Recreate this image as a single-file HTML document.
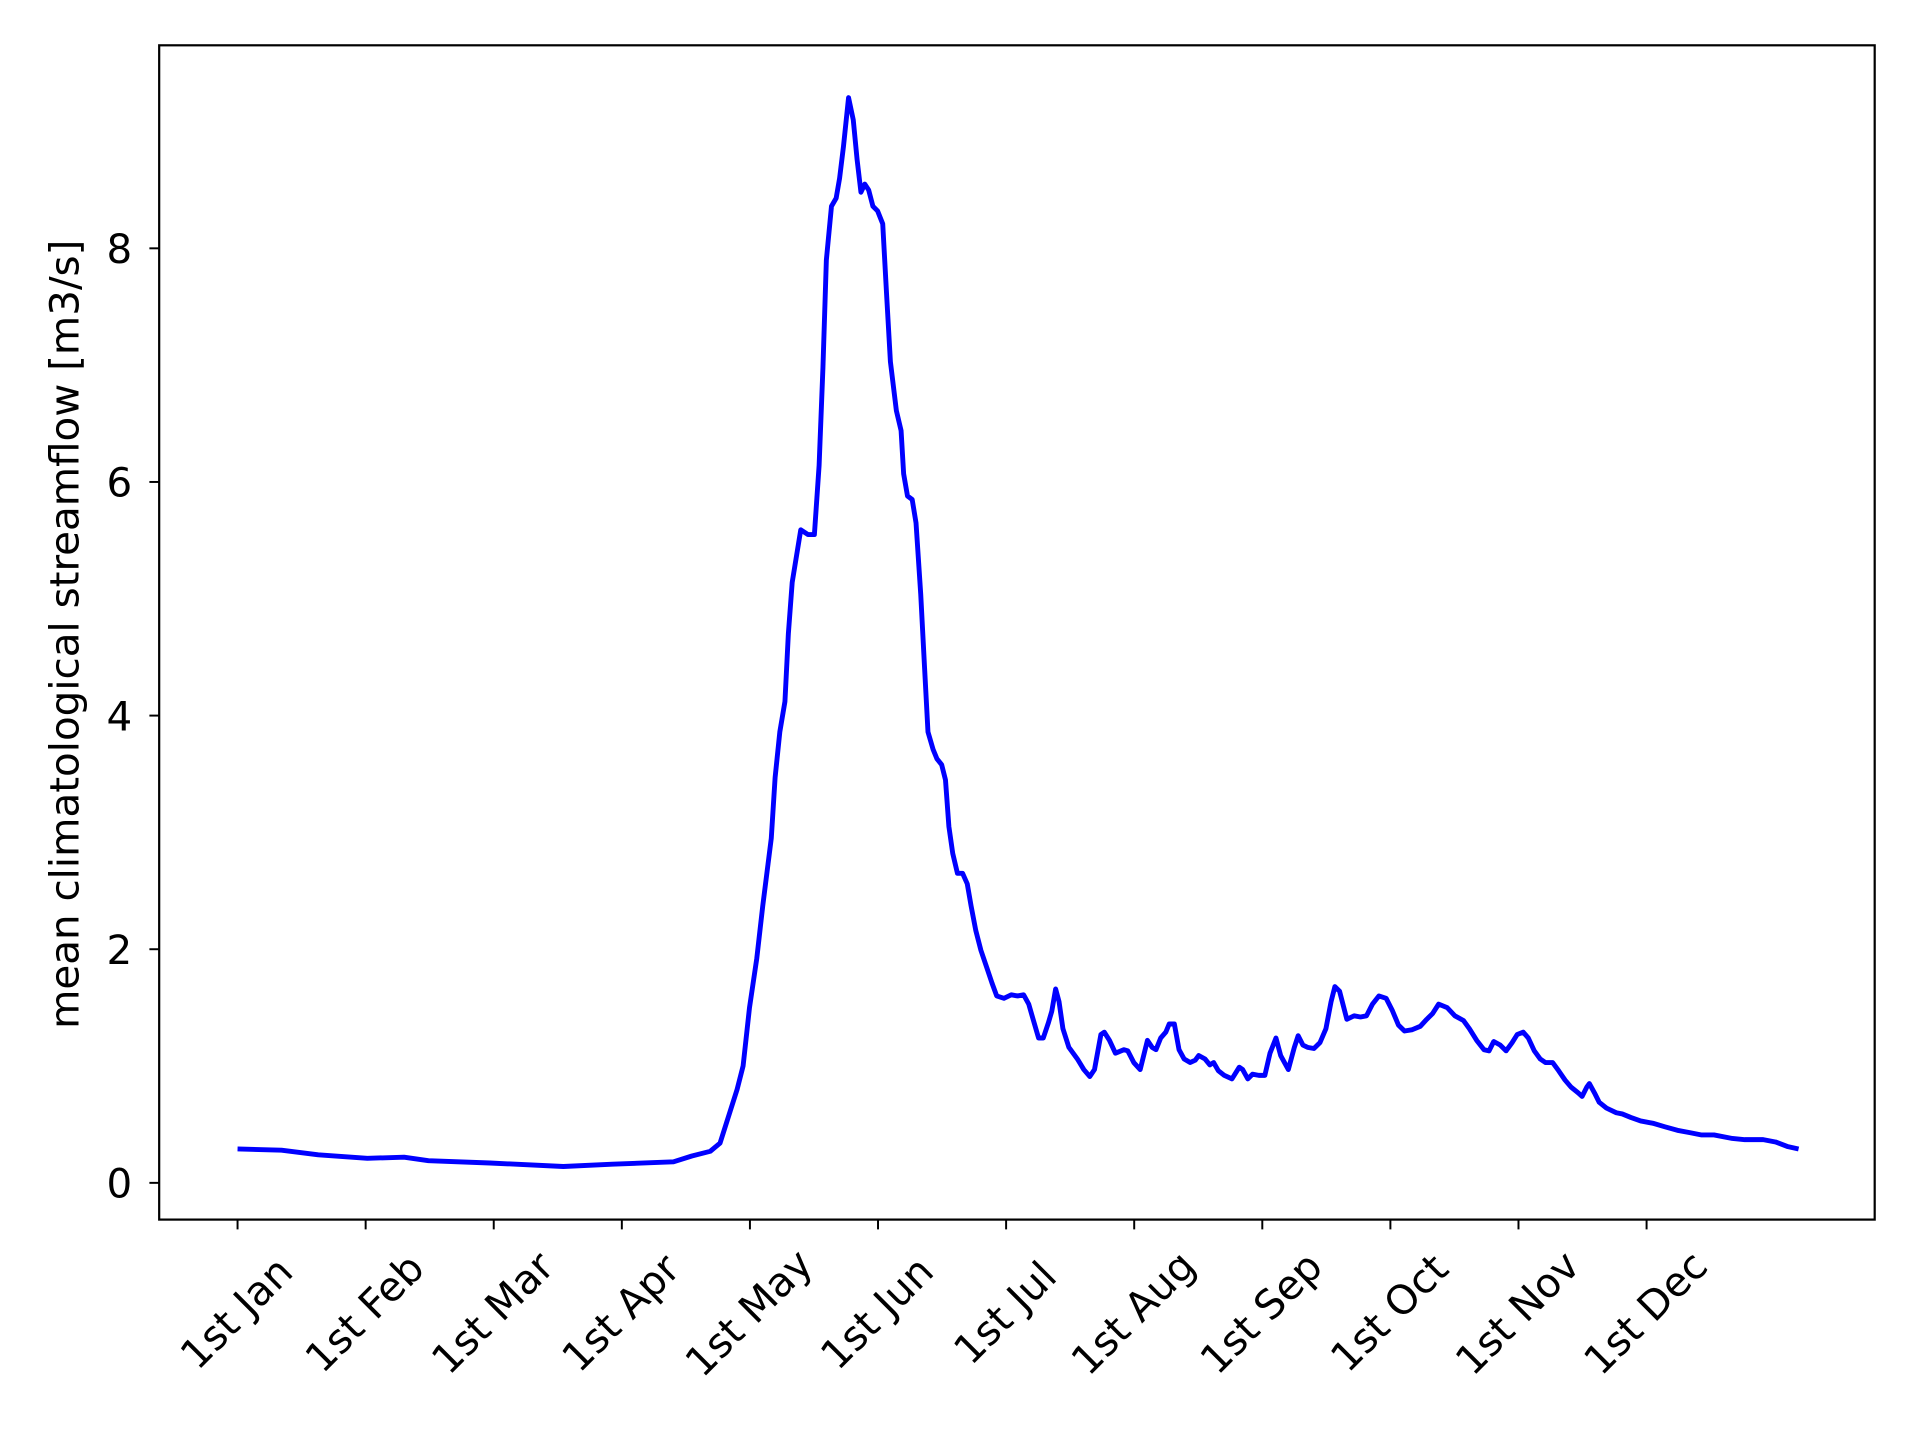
<!DOCTYPE html>
<html><head><meta charset="utf-8"><style>html,body{margin:0;padding:0;background:#fff}svg{display:block}text{font-family:"DejaVu Sans","Liberation Sans",sans-serif;fill:#000}</style></head>
<body>
<svg id="chart" width="1920" height="1440" viewBox="0 0 1568 1176" xmlns="http://www.w3.org/2000/svg">
<rect x="0" y="0" width="1568" height="1176" fill="#fff"/>
<g id="xticks"></g>
<g id="yticks"></g>
<path id="line" fill="none" stroke="#0000ff" stroke-width="4" stroke-linejoin="round"/>
<rect x="130" y="37" width="1401" height="959" fill="none" stroke="#000" stroke-width="1.8"/>
<text transform="translate(64,518) rotate(-90)" text-anchor="middle" font-size="33">mean climatological streamflow [m3/s]</text>
</svg>
<script>
const days=[0,10.3,18.9,30.4,39,44.7,59.1,76.3,87.8,102.1,106.4,110.7,113,115,117,118.4,119.9,121.6,123,125,125.9,127,128.2,129,129.9,131.9,133.6,135.1,136.2,137.1,137.9,139.1,140.2,141,141.9,143.1,144.2,145.1,146,146.9,147.8,148.8,149.9,151.1,152,152.9,154.3,155.4,156,156.9,158,158.9,160,160.9,161.7,162.9,163.8,164.9,165.8,166.6,167.5,168.6,169.8,170.9,171.8,172.9,174.1,175.5,176.7,177.8,179.5,181.2,182.7,184.1,185.3,186.4,187.6,188.7,189.9,190.7,191.6,192.4,193.3,194.7,196.7,198.2,199.6,200.7,202.2,203,204.2,205.6,207.6,208.5,209.9,211.4,213.1,214.2,215.1,216.2,217.4,218.2,219.4,220.5,221.7,223.1,224.3,225.1,226.6,227.7,228.6,229.7,231.1,232.9,234.6,235.4,236.6,237.7,239.2,240.6,241.8,243.2,244.3,246.1,247.5,248.4,249.5,250.6,252.1,253.5,254.9,256.1,257,258.1,259.8,261.5,263,264.4,265.8,267.3,269,270.4,271.9,273.3,275,277,278.5,279.9,281.3,283.3,285.1,287.1,288.5,290.2,291.9,293.1,294.2,295.7,297.1,298.5,299.7,301.1,302.3,303.7,305.1,306.3,308,309.4,310.9,312.3,314,314.9,316,316.6,317.8,318.9,320.6,322.9,324.3,326.3,328.6,331.5,334.3,337.2,340.1,342.9,345.8,350.1,353,357.3,360.2,363.1,365.6];
const flows=[0.29,0.28,0.24,0.21,0.22,0.19,0.17,0.14,0.16,0.18,0.23,0.27,0.34,0.57,0.80,1.0,1.5,1.92,2.37,2.95,3.47,3.86,4.12,4.7,5.14,5.59,5.55,5.55,6.14,6.98,7.9,8.36,8.43,8.6,8.87,9.29,9.1,8.76,8.48,8.55,8.5,8.36,8.32,8.21,7.61,7.03,6.61,6.44,6.07,5.88,5.85,5.65,5.04,4.41,3.86,3.71,3.63,3.58,3.45,3.05,2.82,2.65,2.65,2.56,2.37,2.16,1.99,1.84,1.71,1.6,1.58,1.61,1.6,1.61,1.53,1.39,1.24,1.24,1.37,1.47,1.66,1.55,1.32,1.16,1.06,0.97,0.91,0.97,1.27,1.29,1.22,1.11,1.14,1.13,1.03,0.97,1.22,1.16,1.14,1.24,1.29,1.36,1.36,1.14,1.06,1.03,1.05,1.09,1.06,1.01,1.03,0.96,0.92,0.89,0.99,0.97,0.89,0.93,0.92,0.92,1.11,1.24,1.09,0.97,1.16,1.26,1.18,1.16,1.15,1.2,1.32,1.55,1.68,1.64,1.4,1.43,1.42,1.43,1.53,1.6,1.58,1.48,1.35,1.30,1.31,1.34,1.40,1.45,1.53,1.50,1.43,1.39,1.32,1.22,1.14,1.13,1.21,1.18,1.13,1.2,1.27,1.29,1.24,1.13,1.06,1.03,1.03,0.96,0.88,0.82,0.77,0.74,0.82,0.85,0.77,0.69,0.64,0.60,0.59,0.56,0.53,0.51,0.48,0.45,0.43,0.41,0.41,0.38,0.37,0.37,0.35,0.31,0.29];
const xTickDays=[0,30,60,90,120,150,180,210,240,270,300,330];
const xTickLabels=["1st Jan","1st Feb","1st Mar","1st Apr","1st May","1st Jun","1st Jul","1st Aug","1st Sep","1st Oct","1st Nov","1st Dec"];
const yTicks=[0,2,4,6,8];
const yTickLabels=["0","2","4","6","8"];

const NS="http://www.w3.org/2000/svg";
function xs(d){return 194+d*3.487;}
function ys(v){return 966-v*95.4;}
let dstr="";
for(let i=0;i<days.length;i++){dstr+=(i?"L":"M")+xs(days[i]).toFixed(2)+" "+ys(flows[i]).toFixed(2);}
document.getElementById("line").setAttribute("d",dstr);
const xg=document.getElementById("xticks");
xTickDays.forEach((d,i)=>{
  const x=xs(d);
  const t=document.createElementNS(NS,"line");
  
  
  t.setAttribute("x1",x);t.setAttribute("x2",x);t.setAttribute("y1",996);t.setAttribute("y2",1004);
  t.setAttribute("stroke","#000");t.setAttribute("stroke-width","1.6");
  xg.appendChild(t);
  const lb=document.createElementNS(NS,"text");
  
  
  lb.setAttribute("font-size","33");
  lb.setAttribute("text-anchor","middle");
  lb.setAttribute("transform","translate("+(x-1)+",1072) rotate(-45)");
  lb.setAttribute("dy","0.35em");
  lb.textContent=xTickLabels[i];
  xg.appendChild(lb);
});
const yg=document.getElementById("yticks");
yTicks.forEach((v,i)=>{
  const y=ys(v);
  const t=document.createElementNS(NS,"line");
  
  
  t.setAttribute("x1",122);t.setAttribute("x2",130);t.setAttribute("y1",y);t.setAttribute("y2",y);
  t.setAttribute("stroke","#000");t.setAttribute("stroke-width","1.6");
  yg.appendChild(t);
  const lb=document.createElementNS(NS,"text");
  
  
  lb.setAttribute("font-size","33");
  lb.setAttribute("text-anchor","end");
  lb.setAttribute("x",108);lb.setAttribute("y",y+12);
  lb.textContent=yTickLabels[i];
  yg.appendChild(lb);
});
</script>
</body></html>
